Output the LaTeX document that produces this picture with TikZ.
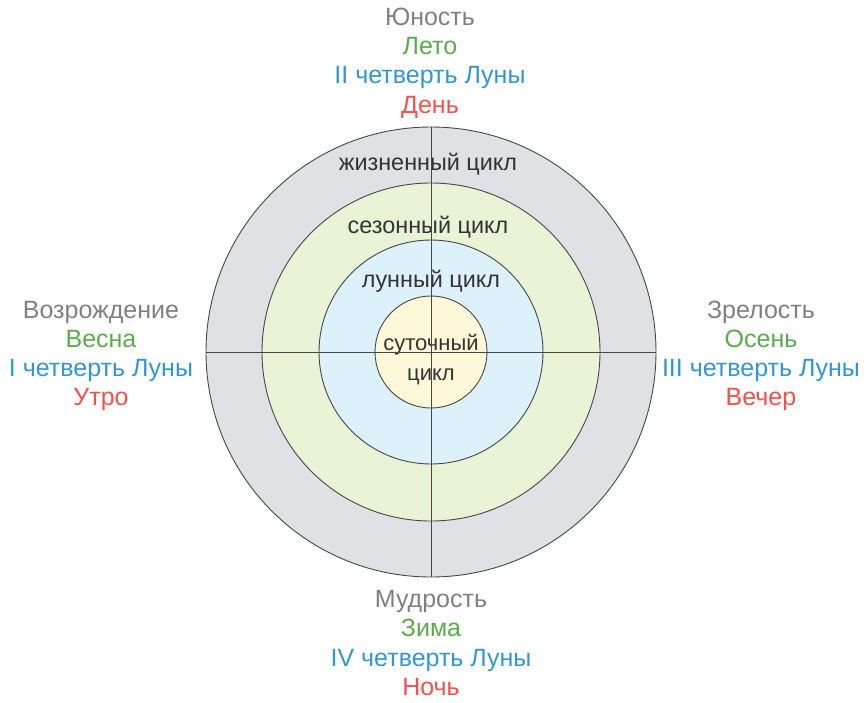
\documentclass[tikz,border=0pt]{standalone}
\usepackage{fontspec}
\setmainfont{Liberation Sans}
\usetikzlibrary{positioning}

\definecolor{txtgray}{RGB}{128,128,130}
\definecolor{txtgreen}{RGB}{92,170,78}
\definecolor{txtblue}{RGB}{52,150,208}
\definecolor{txtred}{RGB}{240,82,78}
\definecolor{ringgray}{RGB}{224,225,229}
\definecolor{ringgreen}{RGB}{233,244,215}
\definecolor{ringblue}{RGB}{221,241,251}
\definecolor{ringyellow}{RGB}{252,248,216}
\definecolor{ringline}{RGB}{70,70,72}

\begin{document}
\begin{tikzpicture}[
  x=1pt, y=-1pt,
  ring/.style={circle, draw=ringline, line width=0.9pt, inner sep=0pt},
  cross/.style={draw=ringline, line width=0.9pt},
  cyclelabel/.style={text=black!80, font=\fontsize{23.4}{30}\selectfont, align=center},
  phase/.style={align=center, inner sep=0pt, font=\fontsize{25}{29.2}\selectfont}
]
\useasboundingbox (0,0) rectangle (865,702);

% Круги циклов
\coordinate (c) at (431,352);
\node[ring, fill=ringgray,   minimum size=450pt] (life)  at (c) {};
\node[ring, fill=ringgreen,  minimum size=338pt] (season) at (c) {};
\node[ring, fill=ringblue,   minimum size=224pt] (moon)  at (c) {};
\node[ring, fill=ringyellow, minimum size=112pt] (day)   at (c) {};

% Подписи циклов
\node[cyclelabel] (lifetxt)   at (428,164) {жизненный цикл};
\node[cyclelabel] (seasontxt) at (428,227) {сезонный цикл};
\node[cyclelabel] (moontxt)   at (431,281) {лунный цикл};
\node[cyclelabel, font=\fontsize{22}{30}\selectfont] (daytxt) at (431,360) {суточный\\цикл};

% Оси
\draw[cross] (life.north) -- (life.south);
\draw[cross] (life.west) -- (life.east);

% Фазы
\node[phase] (top) at (430,63) {%
  \textcolor{txtgray}{Юность}\\
  \textcolor{txtgreen}{Лето}\\
  \textcolor{txtblue}{II четверть Луны}\\
  \textcolor{txtred}{День}};
\node[phase] (left) at (101,356) {%
  \textcolor{txtgray}{Возрождение}\\
  \textcolor{txtgreen}{Весна}\\
  \textcolor{txtblue}{I четверть Луны}\\
  \textcolor{txtred}{Утро}};
\node[phase] (right) at (761,356) {%
  \textcolor{txtgray}{Зрелость}\\
  \textcolor{txtgreen}{Осень}\\
  \textcolor{txtblue}{III четверть Луны}\\
  \textcolor{txtred}{Вечер}};
\node[phase] (bottom) at (431,643) {%
  \textcolor{txtgray}{Мудрость}\\
  \textcolor{txtgreen}{Зима}\\
  \textcolor{txtblue}{IV четверть Луны}\\
  \textcolor{txtred}{Ночь}};
\end{tikzpicture}
\end{document}
